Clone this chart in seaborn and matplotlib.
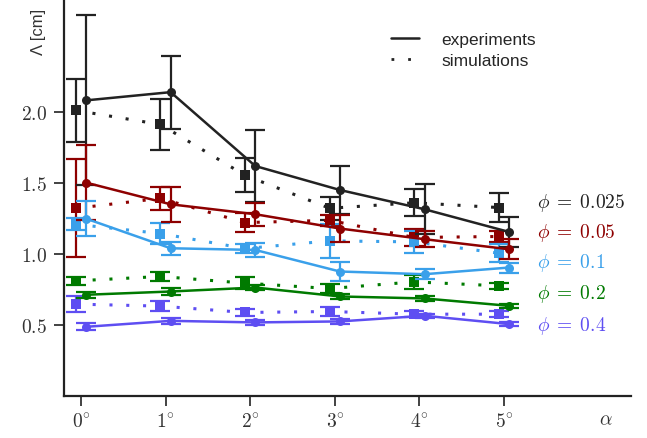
import numpy as np
import pandas as pd
import matplotlib
matplotlib.use("Agg")
import matplotlib.pyplot as plt
from matplotlib.lines import Line2D
import seaborn as sns

# inclination angles (degrees)
angles = [0, 1, 2, 3, 4, 5]
phis = ['0.025', '0.05', '0.1', '0.2', '0.4']
colors = ['#222222', '#8e0000', '#3aa0ea', '#007a00', '#5e4ef2']

# experiments: wavelength Lambda [cm] and error
exp_vals = {
    '0.025': [2.085, 2.143, 1.622, 1.453, 1.317, 1.157],
    '0.05':  [1.505, 1.352, 1.282, 1.181, 1.106, 1.035],
    '0.1':   [1.251, 1.042, 1.030, 0.878, 0.859, 0.906],
    '0.2':   [0.714, 0.737, 0.765, 0.702, 0.688, 0.636],
    '0.4':   [0.488, 0.530, 0.519, 0.526, 0.566, 0.507],
}
exp_err = {
    '0.025': [0.600, 0.257, 0.253, 0.170, 0.176, 0.106],
    '0.05':  [0.265, 0.125, 0.082, 0.095, 0.055, 0.070],
    '0.1':   [0.125, 0.045, 0.047, 0.067, 0.035, 0.035],
    '0.2':   [0.022, 0.025, 0.020, 0.020, 0.020, 0.012],
    '0.4':   [0.025, 0.020, 0.015, 0.015, 0.015, 0.015],
}
# simulations
sim_vals = {
    '0.025': [2.014, 1.915, 1.556, 1.324, 1.363, 1.329],
    '0.05':  [1.324, 1.394, 1.223, 1.239, 1.118, 1.125],
    '0.1':   [1.211, 1.146, 1.040, 1.094, 1.087, 1.007],
    '0.2':   [0.812, 0.843, 0.796, 0.758, 0.805, 0.777],
    '0.4':   [0.648, 0.634, 0.589, 0.596, 0.577, 0.577],
}
sim_err = {
    '0.025': [0.220, 0.180, 0.120, 0.080, 0.097, 0.100],
    '0.05':  [0.345, 0.080, 0.065, 0.040, 0.060, 0.040],
    '0.1':   [0.042, 0.075, 0.030, 0.120, 0.076, 0.063],
    '0.2':   [0.030, 0.035, 0.040, 0.035, 0.050, 0.020],
    '0.4':   [0.055, 0.033, 0.025, 0.030, 0.020, 0.020],
}

# long format table for seaborn
rows = []
for p in phis:
    for i, a in enumerate(angles):
        rows.append({'phi': p, 'alpha': a, 'kind': 'exp', 'L': exp_vals[p][i], 'err': exp_err[p][i]})
        rows.append({'phi': p, 'alpha': a, 'kind': 'sim', 'L': sim_vals[p][i], 'err': sim_err[p][i]})
df = pd.DataFrame(rows)
# small horizontal shift so the two sets do not overlap
df['x'] = df['alpha'] + np.where(df['kind'] == 'exp', 0.06, -0.06)

sns.set_style("ticks")
plt.rcParams['font.family'] = ['Liberation Sans', 'DejaVu Sans']
plt.rcParams['mathtext.fontset'] = 'cm'

fig = plt.figure(figsize=(6.47, 4.39), dpi=100)
ax = fig.add_axes([64/647, 42/439, 567/647, 397/439])

palette = dict(zip(phis, colors))
dots = (0, (1, 4.5))

# simulations: dotted lines with squares
sim = df[df['kind'] == 'sim']
for p in phis:
    d = sim[sim['phi'] == p]
    ax.errorbar(d['x'], d['L'], yerr=d['err'], fmt='none', ecolor=palette[p],
                elinewidth=1.6, capsize=7, capthick=1.6, zorder=2)
sns.lineplot(data=sim, x='x', y='L', hue='phi', palette=palette, ax=ax,
             linestyle=dots, linewidth=2.2, marker='s', markersize=6.5,
             markeredgewidth=0, legend=False, zorder=3, estimator=None, sort=False)

# experiments: solid lines with circles
ex = df[df['kind'] == 'exp']
for p in phis:
    d = ex[ex['phi'] == p]
    ax.errorbar(d['x'], d['L'], yerr=d['err'], fmt='none', ecolor=palette[p],
                elinewidth=1.6, capsize=7, capthick=1.6, zorder=4)
sns.lineplot(data=ex, x='x', y='L', hue='phi', palette=palette, ax=ax,
             linestyle='-', linewidth=1.8, marker='o', markersize=6.5,
             markeredgewidth=0, legend=False, zorder=5, estimator=None, sort=False)

ax.set_xlim(-0.2, 6.5)
ax.set_ylim(0, 2.8)
ax.set_xticks(angles)
ax.set_xticklabels([r'$%d\,\!^{\circ}$' % a for a in angles], fontsize=14)
ax.set_yticks([0.5, 1.0, 1.5, 2.0])
ax.set_yticklabels([r'$0.5$', r'$1.0$', r'$1.5$', r'$2.0$'], fontsize=14)
ax.tick_params(axis='both', direction='out', length=7, width=1.2, color='#222222',
               labelcolor='#333333', pad=5)
sns.despine(ax=ax)
for s in ['left', 'bottom']:
    ax.spines[s].set_linewidth(1.6)
    ax.spines[s].set_color('#222222')

ax.set_xlabel('')
ax.set_ylabel('\u039b [cm]', fontsize=12, color='#333333')
ax.yaxis.set_label_coords(-0.032, 0.92)
ax.text(6.2, -0.165, r'$\alpha$', fontsize=14, color='#333333', ha='center', va='center')

# phi labels on the right
label_y = [1.368, 1.155, 0.944, 0.725, 0.502]
for p, c, yy in zip(phis, colors, label_y):
    ax.text(5.39, yy, r'$\phi\;=\;%s$' % p, color=c, fontsize=14, ha='left', va='center')

handles = [Line2D([], [], color='#222222', lw=1.8, linestyle='-'),
           Line2D([], [], color='#222222', lw=2.0, linestyle=(0, (1, 5)))]
fig.legend(handles, ['experiments', 'simulations'], loc='upper left',
           bbox_to_anchor=(384/647, 1 - 26/439), frameon=False, fontsize=12.5,
           handlelength=1.6, handletextpad=1.3, labelspacing=0.35, borderaxespad=0)

fig.savefig('out.png', dpi=100)
